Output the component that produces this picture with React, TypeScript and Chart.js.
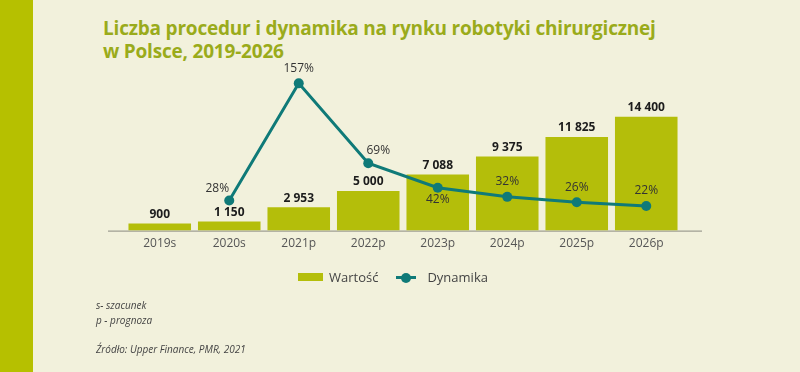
import React, { useEffect, useRef } from "react";
import { Chart, registerables } from "chart.js";

Chart.register(...registerables);

const TITLE_LINES = ["Liczba procedur i dynamika na rynku robotyki chirurgicznej", "w Polsce, 2019-2026"];
const CATEGORIES = ["2019s", "2020s", "2021p", "2022p", "2023p", "2024p", "2025p", "2026p"];
const VALUES = [900, 1150, 2953, 5000, 7088, 9375, 11825, 14400];
const DYNAMICS = [null, 28, 157, 69, 42, 32, 26, 22];
const BAR_LABEL = "Wartość";
const LINE_LABEL = "Dynamika";
const LINE_LABEL_POS = ["", "left", "above", "right", "below", "above", "above", "above"];
const FOOTNOTES = ["s- szacunek", "p - prognoza"];
const SOURCE = "Źródło: Upper Finance, PMR, 2021";

const BAR_COLOR = "#b4be0a";
const LINE_COLOR = "#0f7a78";
const BG = "#f2f1dc";
const FONT = "'Open Sans', sans-serif";

const fmt = (v: number) => String(v).replace(/\B(?=(\d{3})+(?!\d))/g, " ");

export default function App() {
  const ref = useRef<HTMLCanvasElement | null>(null);

  useEffect(() => {
    document.body.style.margin = "0";
    const labelsPlugin = {
      id: "labels",
      beforeDatasetsDraw(chart: any) {
        const { ctx, chartArea } = chart;
        const y0 = chart.scales.y.getPixelForValue(0);
        ctx.save();
        ctx.strokeStyle = "#8a8a80";
        ctx.lineWidth = 1;
        ctx.beginPath();
        ctx.moveTo(chartArea.left - 17, y0 + 0.5);
        ctx.lineTo(chartArea.right + 21, y0 + 0.5);
        ctx.stroke();
        ctx.restore();
      },
      afterDatasetsDraw(chart: any) {
        const { ctx } = chart;
        ctx.save();
        ctx.textAlign = "center";
        ctx.textBaseline = "middle";
        const barMeta = chart.getDatasetMeta(0);
        ctx.font = `bold 12px ${FONT}`;
        ctx.fillStyle = "#1c1c1c";
        barMeta.data.forEach((el: any, i: number) => {
          ctx.fillText(fmt(VALUES[i]), el.x, el.y - 9);
        });
        const lineMeta = chart.getDatasetMeta(1);
        ctx.font = `12px ${FONT}`;
        ctx.fillStyle = "#333";
        lineMeta.data.forEach((el: any, i: number) => {
          const v = DYNAMICS[i];
          if (v == null) return;
          const pos = LINE_LABEL_POS[i];
          let x = el.x, y = el.y;
          if (pos === "above") y -= 15;
          else if (pos === "below") y += 12;
          else if (pos === "left") { x -= 12; y -= 12; }
          else if (pos === "right") { x += 10; y -= 13; }
          ctx.fillText(`${v}%`, x, y);
        });
        ctx.restore();
      },
    };

    const chart = new Chart(ref.current!, {
      type: "bar",
      data: {
        labels: CATEGORIES,
        datasets: [
          {
            type: "bar",
            label: BAR_LABEL,
            data: VALUES,
            backgroundColor: BAR_COLOR,
            barPercentage: 0.9,
            categoryPercentage: 1.0,
            yAxisID: "y",
            order: 1,
          },
          {
            type: "line",
            label: LINE_LABEL,
            data: DYNAMICS as any,
            borderColor: LINE_COLOR,
            backgroundColor: LINE_COLOR,
            borderWidth: 3,
            pointRadius: 5,
            pointBackgroundColor: LINE_COLOR,
            pointBorderWidth: 0,
            tension: 0,
            yAxisID: "y1",
            order: 0,
          },
        ],
      },
      options: {
        animation: false,
        responsive: false,
        layout: { padding: { left: 125, right: 119, top: 70, bottom: 115 } },
        plugins: { legend: { display: false }, tooltip: { enabled: false } },
        scales: {
          x: {
            grid: { display: false, drawTicks: false, tickLength: 0 },
            border: { display: false },
            ticks: { color: "#555", font: { family: FONT, size: 12 }, padding: 6 },
          },
          y: { display: false, min: 0, max: 20300 },
          y1: { display: false, min: -5.16, max: 171.7 },
        },
      },
      plugins: [labelsPlugin],
    });
    return () => chart.destroy();
  }, []);

  const textItalic: React.CSSProperties = {
    position: "absolute",
    left: 96,
    fontFamily: FONT,
    fontStyle: "italic",
    fontSize: 10,
    color: "#444",
    lineHeight: "12px",
  };

  return (
    <div style={{ position: "relative", width: 800, height: 372, background: BG, overflow: "hidden" }}>
      <div style={{ position: "absolute", left: 0, top: 0, width: 33, height: 372, background: "#b6c000" }} />
      <div
        style={{
          position: "absolute",
          left: 103,
          top: 17,
          fontFamily: FONT,
          fontWeight: 700,
          fontSize: 19,
          lineHeight: "23px",
          color: "#9aab1b",
          letterSpacing: "-0.2px",
        }}
      >
        {TITLE_LINES.map((t) => (
          <div key={t}>{t}</div>
        ))}
      </div>
      <canvas ref={ref} width={800} height={372} style={{ position: "absolute", left: 0, top: 0 }} />
      <div style={{ position: "absolute", top: 268, left: 298, display: "flex", alignItems: "center", fontFamily: FONT, fontSize: 13, color: "#444" }}>
        <span style={{ display: "inline-block", width: 25, height: 8, background: BAR_COLOR, marginRight: 6 }} />
        <span>{BAR_LABEL}</span>
        <span style={{ position: "relative", display: "inline-block", width: 20, height: 10, marginLeft: 18, marginRight: 11 }}>
          <span style={{ position: "absolute", left: 0, top: 4, width: 20, height: 3, background: LINE_COLOR }} />
          <span style={{ position: "absolute", left: 5, top: 0.5, width: 10, height: 10, borderRadius: 5, background: LINE_COLOR }} />
        </span>
        <span>{LINE_LABEL}</span>
      </div>
      <div style={{ ...textItalic, top: 299 }}>{FOOTNOTES[0]}</div>
      <div style={{ ...textItalic, top: 314 }}>{FOOTNOTES[1]}</div>
      <div style={{ ...textItalic, top: 343 }}>{SOURCE}</div>
    </div>
  );
}
